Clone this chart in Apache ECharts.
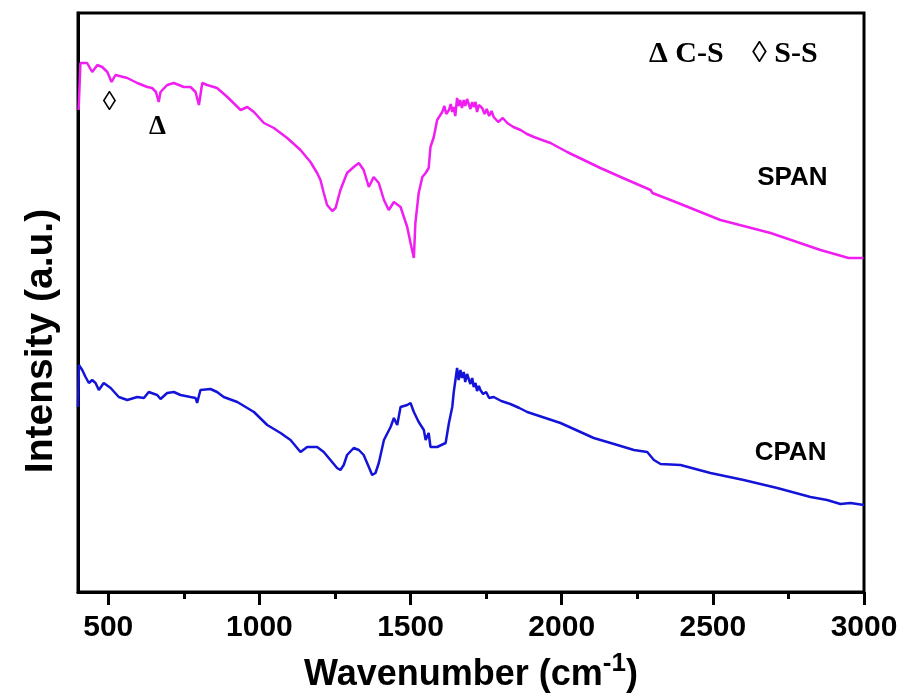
<!DOCTYPE html>
<html>
<head>
<meta charset="utf-8">
<script src="https://cdn.jsdelivr.net/npm/echarts@6/dist/echarts.min.js"></script>
<style>
  html, body { margin: 0; padding: 0; background: #fff; }
  #chart { width: 907px; height: 699px; }
</style>
</head>
<body>
<div id="chart"></div>
<script>
// wavenumber (cm-1) / intensity (a.u.)
const spanWave = [402, 408, 430, 447, 464, 480, 497, 511, 524, 563, 596, 629, 645, 658, 667, 673, 695, 717, 750, 772, 789, 800, 811, 827, 860, 894, 938, 960, 982, 1015, 1048, 1092, 1136, 1169, 1191, 1202, 1213, 1224, 1241, 1252, 1268, 1290, 1312, 1329, 1345, 1362, 1378, 1395, 1412, 1428, 1445, 1467, 1489, 1500, 1511, 1516, 1527, 1539, 1550, 1560, 1566, 1577, 1588, 1605, 1612, 1618, 1627, 1633, 1638, 1643, 1648, 1654, 1659, 1664, 1670, 1676, 1681, 1687, 1693, 1698, 1704, 1709, 1715, 1720, 1726, 1737, 1745, 1752, 1760, 1768, 1775, 1790, 1805, 1820, 1840, 1864, 1885, 1908, 1935, 1963, 2018, 2073, 2128, 2195, 2294, 2300, 2360, 2525, 2691, 2856, 2949, 2998];
const spanInt  = [482, 529, 529, 520, 527, 525, 520, 510, 517, 514, 509, 505, 504, 500, 490, 500, 507, 509, 505, 505, 500, 487, 509, 507, 504, 495, 482, 485, 480, 469, 464, 454, 442, 430, 419, 412, 399, 387, 381, 384, 402, 419, 425, 429, 422, 405, 415, 409, 392, 382, 390, 385, 365, 349, 334, 369, 399, 415, 419, 424, 445, 455, 472, 480, 486, 478, 482, 488, 480, 485, 476, 494, 486, 492, 484, 492, 486, 493, 494, 483, 490, 485, 490, 480, 487, 484, 478, 483, 476, 481, 475, 470, 474, 469, 465, 462, 458, 455, 452, 449, 440, 432, 424, 415, 402, 399, 392, 372, 359, 342, 334, 334];

const cpanWave = [400, 403, 414, 425, 436, 447, 458, 469, 485, 508, 535, 563, 596, 618, 634, 662, 673, 695, 717, 739, 772, 789, 794, 805, 838, 860, 882, 927, 960, 982, 1026, 1070, 1103, 1136, 1158, 1191, 1213, 1235, 1257, 1268, 1279, 1290, 1312, 1329, 1345, 1362, 1373, 1384, 1395, 1412, 1434, 1445, 1456, 1467, 1489, 1500, 1511, 1527, 1544, 1550, 1560, 1566, 1588, 1616, 1627, 1638, 1643, 1654, 1659, 1665, 1670, 1676, 1681, 1687, 1693, 1698, 1704, 1709, 1715, 1720, 1726, 1731, 1740, 1750, 1760, 1775, 1800, 1830, 1860, 1886, 1996, 2106, 2162, 2239, 2283, 2305, 2327, 2393, 2492, 2602, 2713, 2823, 2878, 2922, 2955, 3000];
const cpanInt  = [185, 227, 222, 215, 209, 212, 209, 202, 209, 204, 195, 192, 195, 194, 200, 197, 193, 199, 200, 197, 195, 194, 189, 202, 203, 200, 195, 190, 184, 180, 167, 159, 152, 140, 145, 145, 140, 132, 124, 122, 127, 137, 144, 142, 137, 125, 117, 119, 129, 152, 165, 174, 167, 185, 187, 189, 180, 170, 162, 152, 159, 145, 145, 149, 169, 185, 200, 224, 212, 222, 214, 220, 210, 218, 219, 208, 214, 205, 209, 201, 206, 202, 198, 200, 194, 195, 191, 188, 184, 180, 169, 154, 149, 142, 140, 132, 128, 127, 119, 112, 104, 95, 92, 88, 89, 87];

const xTicks = [500, 1000, 1500, 2000, 2500, 3000];
const xMinorTicks = [750, 1250, 1750, 2250, 2750];

// peak marks on the SPAN curve: [wavenumber, intensity, glyph]
const peakMarks = [[504, 489, '\u25CA'], [663, 465, '\u0394']];
// sample names placed beside the curves
const sampleLabels = [[2763, 414, 'SPAN'], [2757, 139, 'CPAN']];

const chart = echarts.init(document.getElementById('chart'));

const zip = (xs, ys) => xs.map((x, i) => [x, ys[i]]);

const option = {
  animation: false,
  grid: {
    left: 78, right: 43, top: 13, bottom: 107,
    show: true, borderColor: '#000', borderWidth: 3
  },
  xAxis: [{
    type: 'value', min: 400, max: 3000,
    name: 'Wavenumber (cm{sup|-1})',
    nameLocation: 'middle', nameGap: 59,
    nameTextStyle: {
      fontFamily: 'Liberation Sans', fontWeight: 'bold', fontSize: 36, color: '#000',
      rich: { sup: { fontFamily: 'Liberation Sans', fontWeight: 'bold', fontSize: 26, color: '#000', padding: [0, 0, 22, 0] } }
    },
    axisLine: { lineStyle: { color: '#000', width: 3 } },
    axisTick: { show: true, customValues: xTicks, length: 13, lineStyle: { color: '#000', width: 3 } },
    axisLabel: {
      customValues: xTicks, margin: 21, formatter: v => String(v),
      fontFamily: 'Liberation Sans', fontWeight: 'bold', fontSize: 30, color: '#000'
    },
    splitLine: { show: false }
  }, {
    type: 'value', min: 400, max: 3000, position: 'bottom',
    axisLine: { show: false },
    axisTick: { show: true, customValues: xMinorTicks, length: 7, lineStyle: { color: '#000', width: 3 } },
    axisLabel: { show: false },
    splitLine: { show: false }
  }],
  yAxis: {
    type: 'value', min: 0, max: 579,
    axisLine: { show: true, lineStyle: { color: '#000', width: 3 } },
    axisTick: { show: false },
    axisLabel: { show: false },
    splitLine: { show: false }
  },
  series: [{
    name: 'SPAN', type: 'line', data: zip(spanWave, spanInt),
    showSymbol: false, symbol: 'none',
    lineStyle: { color: '#f01ef0', width: 2.5 }
  }, {
    name: 'CPAN', type: 'line', data: zip(cpanWave, cpanInt),
    showSymbol: false, symbol: 'none',
    lineStyle: { color: '#1414d8', width: 2.5 }
  }]
};

chart.setOption(option);

// texts anchored to data coordinates
const textAt = (d, font) => {
  const p = chart.convertToPixel({ xAxisIndex: 0, yAxisIndex: 0 }, [d[0], d[1]]);
  return {
    type: 'text', x: p[0], y: p[1],
    style: { text: d[2], align: 'center', verticalAlign: 'middle', font: font, fill: '#000' }
  };
};

chart.setOption({
  graphic: [
    {
      type: 'text', x: 41, y: 341, rotation: Math.PI / 2,
      style: {
        text: 'Intensity (a.u.)', align: 'center', verticalAlign: 'middle',
        font: 'bold 39px "Liberation Sans"', fill: '#000'
      }
    },
    {
      type: 'text', x: 649, y: 54,
      style: { text: '\u0394 C-S', align: 'left', verticalAlign: 'middle', font: 'bold 30px "Liberation Serif"', fill: '#000' }
    },
    {
      type: 'text', x: 752, y: 54,
      style: { text: '\u25CA S-S', align: 'left', verticalAlign: 'middle', font: 'bold 30px "Liberation Serif"', fill: '#000' }
    },
    ...peakMarks.map(d => textAt(d, 'bold 27px "Liberation Serif"')),
    ...sampleLabels.map(d => textAt(d, 'bold 26px "Liberation Sans"'))
  ]
});
</script>
</body>
</html>
